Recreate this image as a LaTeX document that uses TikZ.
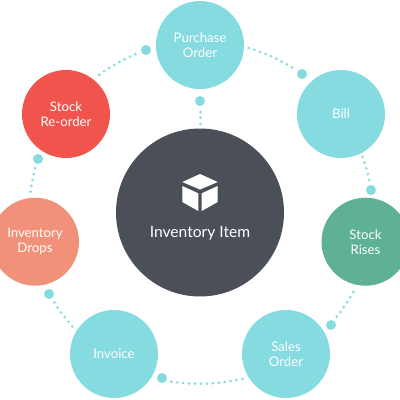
\documentclass[tikz,border=0pt]{standalone}
\usepackage{fontspec}
\setmainfont{Lato}
\definecolor{teal}{HTML}{86DBE0}
\definecolor{redc}{HTML}{F0544C}
\definecolor{salmon}{HTML}{F2917A}
\definecolor{greenc}{HTML}{5FB195}
\definecolor{darkc}{HTML}{4B4F57}
\tikzset{
  stage/.style={circle,minimum size=88pt,inner sep=0pt,align=center,text=white,font=\fontsize{13.2}{15}\selectfont},
  hub/.style={circle,fill=darkc,minimum size=168pt,inner sep=0pt},
  knob/.style={circle,fill=teal,minimum size=10pt,inner sep=0pt},
  link/.style={draw=teal,line width=3pt,line cap=round,dash pattern=on 0pt off 5.95pt}
}
\begin{document}
\begin{tikzpicture}[x=1pt,y=-1pt]
\useasboundingbox (0,0) rectangle (400,400);
\clip (0,0) rectangle (400,400);
\node[hub] (hub) at (200,212.5) {};
\node[stage,fill=teal] (po) at (200,45) {Purchase\\Order};
\node[stage,fill=teal] (bill) at (341,114) {Bill};
\node[stage,fill=greenc] (rises) at (365.5,241.7) {Stock\\Rises};
\node[stage,fill=teal] (so) at (286,354) {Sales\\Order};
\node[stage,fill=teal] (inv) at (114,354) {Invoice};
\node[stage,fill=salmon] (drops) at (35,241.7) {Inventory\\Drops};
\node[stage,fill=redc] (reorder) at (66,114) {Stock\\Re-order};
\node[text=white,font=\fontsize{15.6}{18}\selectfont] (title) at (200,233.5) {Inventory Item};
\node[knob] (k1) at (200,101) {};
\node[knob] (k2) at (302,74) {};
\node[knob] (k3) at (371,190) {};
\node[knob] (k4) at (331,325) {};
\node[knob] (k5) at (162,378) {};
\node[knob] (k6) at (49,294) {};
\node[knob] (k7) at (38,159) {};
\node[knob] (k8) at (146,50) {};
\coordinate (c1) at (200.5,124.5);
\coordinate (c2) at (248.7,48);
\coordinate (c3) at (362.7,157);
\coordinate (c4) at (353.3,292);
\coordinate (c5) at (242.3,379);
\coordinate (c6) at (72.3,326.3);
\coordinate (c7) at (30.7,191.7);
\coordinate (c8) at (99.3,74.7);
\draw[link] (200.5,112) -- (c1);
\draw[link] (c2) to[bend left=7] (293,68);
\draw[link] (c3) to[bend left=3] (369.5,181);
\draw[link] (c4) to[bend left=4] (336.3,317.3);
\draw[link] (c5) to[bend left=9] (170.7,381.7);
\draw[link] (c6) to[bend left=4] (54,302);
\draw[link] (c7) to[bend left=3] (35.3,167.7);
\draw[link] (c8) to[bend left=6] (136,54);
\fill[white] (200,174) -- (217.7,182) -- (200,189.5) -- (182.3,182) -- cycle;
\fill[white] (182.3,186) -- (198.3,193.3) -- (198.3,211) -- (182.3,202) -- cycle;
\fill[white] (217.7,186) -- (201.7,193.3) -- (201.7,211) -- (217.7,202) -- cycle;
\end{tikzpicture}
\end{document}
